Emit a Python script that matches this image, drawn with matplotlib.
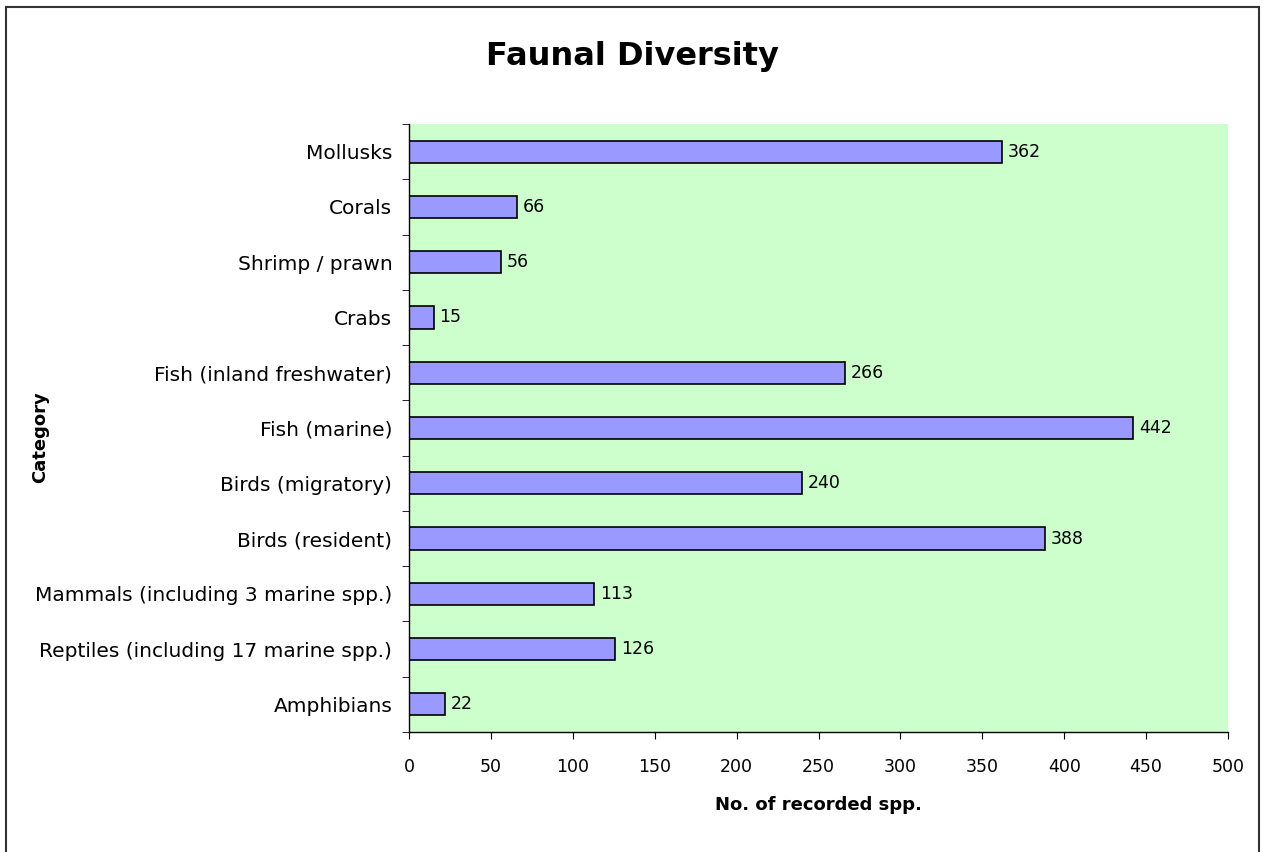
import matplotlib
matplotlib.use("Agg")
import matplotlib.pyplot as plt
from matplotlib.patches import Rectangle

categories = ["Amphibians", "Reptiles (including 17 marine spp.)", "Mammals (including 3 marine spp.)",
              "Birds (resident)", "Birds (migratory)", "Fish (marine)", "Fish (inland freshwater)",
              "Crabs", "Shrimp / prawn", "Corals", "Mollusks"]
values = [22, 126, 113, 388, 240, 442, 266, 15, 56, 66, 362]
xticks = [0, 50, 100, 150, 200, 250, 300, 350, 400, 450, 500]

plt.rcParams['font.family'] = ['DejaVu Sans']

W, H = 1268, 852
fig = plt.figure(figsize=(W/100, H/100), dpi=100)
fig.patch.set_facecolor('white')
fig.patches.append(Rectangle((6/W, -0.05), (1259-6)/W, 1.05 - 7/H, transform=fig.transFigure,
                             fill=False, edgecolor='#333333', linewidth=1.5))

ax = fig.add_axes([409/W, 1-732/H, (1228-409)/W, (732-124)/H])
ax.set_facecolor('#CCFFCC')
y = list(range(len(categories)))
ax.barh(y, values, height=0.4, color='#9999FF', edgecolor='black', linewidth=1.2)
for yi, v in zip(y, values):
    ax.text(v + 3.5, yi, str(v), va='center', ha='left', fontsize=12.5)

ax.set_xlim(0, 500)
ax.set_ylim(-0.5, len(categories) - 0.5)
ax.set_xticks(xticks)
ax.set_xticklabels([str(t) for t in xticks], fontsize=12.5)
ax.set_yticks(y)
ax.set_yticklabels(categories, fontsize=14.5)
ax.set_yticks([i - 0.5 for i in range(len(categories) + 1)], minor=True)
ax.tick_params(axis='y', which='major', length=0, pad=12)
ax.tick_params(axis='y', which='minor', length=5, direction='out')
ax.tick_params(axis='x', which='major', length=5, direction='out', pad=14)
for s in ['top', 'right']:
    ax.spines[s].set_visible(False)
for s in ['left', 'bottom']:
    ax.spines[s].set_color('black')
    ax.spines[s].set_linewidth(1.0)

fig.text(632/W, 1-57/H, "Faunal Diversity", fontsize=23, fontweight='bold', ha='center', va='center')
fig.text(818/W, 1-805/H, "No. of recorded spp.", fontsize=13, fontweight='bold', ha='center', va='center')
fig.text(40/W, 1-437/H, "Category", fontsize=13, fontweight='bold', ha='center', va='center', rotation=90)

fig.savefig("out.png", dpi=100)
